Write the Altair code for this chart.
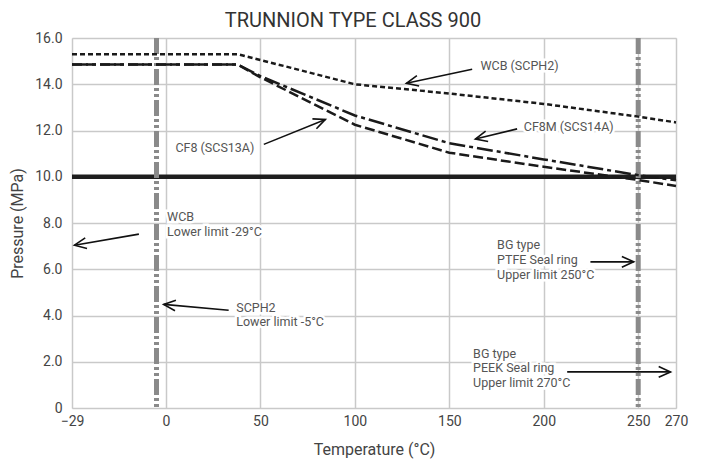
import math
import altair as alt
import pandas as pd
import numpy as np

# ---------------- data ----------------
TEMPS = [-29, 38, 50, 100, 150, 200, 250, 270]
WCB = [15.3, 15.3, 15.05, 14.0, 13.6, 13.15, 12.6, 12.35]
CF8M = [14.85, 14.85, 14.35, 12.65, 11.45, 10.75, 10.07, 9.85]
CF8 = [14.85, 14.85, 14.3, 12.25, 11.04, 10.43, 9.86, 9.6]
SEAL_LIMIT = 10.0
LIMIT_TEMPS = [-5, 250]

X_TICKS = [-29, 0, 50, 100, 150, 200, 250, 270]
Y_TICKS = [0, 2, 4, 6, 8, 10, 12, 14, 16]

TITLE = "TRUNNION TYPE CLASS 900"
X_TITLE = "Temperature (°C)"
Y_TITLE = "Pressure (MPa)"

# annotation text lines: (x, y, text)
LABEL_X = [166.5, 189.4, 5.0, 0.6, 0.6, 37.2, 37.2, 175.3, 175.3, 175.3, 162.6, 162.6, 162.6]
LABEL_Y = [14.79, 12.13, 11.23, 8.27, 7.62, 4.34, 3.72, 7.04, 6.39, 5.75, 2.35, 1.71, 1.06]
LABEL_T = ["WCB (SCPH2)", "CF8M (SCS14A)", "CF8 (SCS13A)",
           "WCB", "Lower limit -29°C",
           "SCPH2", "Lower limit -5°C",
           "BG type", "PTFE Seal ring", "Upper limit 250°C",
           "BG type", "PEEK Seal ring", "Upper limit 270°C"]

# arrows: tail -> head
ARROW_X1 = [162.1, 185.9, 51.8, -10.0, 33.2, 224.7, 212.4]
ARROW_Y1 = [14.65, 12.07, 11.40, 7.52, 4.23, 6.32, 1.56]
ARROW_X2 = [127.3, 163.8, 84.4, -28.3, -1.2, 247.6, 267.1]
ARROW_Y2 = [14.04, 11.63, 12.48, 7.04, 4.48, 6.32, 1.56]

# ---------------- layout ----------------
W, H = 604, 370
X_DOMAIN = [-29, -5, 270]
X_RANGE = [0, 84.5, W]
Y_DOMAIN = [0, 16]
FONT = "Roboto"

xscale = alt.Scale(domain=X_DOMAIN, range=X_RANGE, nice=False, zero=False)
yscale = alt.Scale(domain=Y_DOMAIN, nice=False, zero=False)


def to_px(t, p):
    return float(np.interp(t, X_DOMAIN, X_RANGE)), H - p / 16.0 * H


series = pd.DataFrame({
    "t": TEMPS * 3,
    "p": WCB + CF8M + CF8,
    "s": ["WCB"] * len(TEMPS) + ["CF8M"] * len(TEMPS) + ["CF8"] * len(TEMPS),
})

labels = pd.DataFrame({"t": LABEL_X, "p": LABEL_Y, "txt": LABEL_T})

angles = []
for a, b, c, d in zip(ARROW_X1, ARROW_Y1, ARROW_X2, ARROW_Y2):
    x1, y1 = to_px(a, b)
    x2, y2 = to_px(c, d)
    angles.append(math.degrees(math.atan2(y2 - y1, x2 - x1)) % 360)
arrows = pd.DataFrame({"x1": ARROW_X1, "y1": ARROW_Y1, "x2": ARROW_X2,
                       "y2": ARROW_Y2, "ang": angles})

limits = pd.DataFrame({"t": LIMIT_TEMPS})
seal = pd.DataFrame({"t": [X_DOMAIN[0], X_DOMAIN[-1]], "p": [SEAL_LIMIT, SEAL_LIMIT]})

x_axis = alt.Axis(values=X_TICKS, grid=True, gridColor="#c9c9c9", gridWidth=1.5,
                  ticks=False, domain=False, labelFont=FONT, labelFontSize=14,
                  labelColor="#444", labelPadding=6, titleFont=FONT, titleFontSize=16,
                  titleFontWeight="normal", titleColor="#444", titlePadding=13,
                  labelFlush=False)
y_axis = alt.Axis(values=Y_TICKS, grid=True, gridColor="#c9c9c9", gridWidth=1.5,
                  ticks=False, domain=False, labelFont=FONT, labelFontSize=14,
                  labelColor="#444", labelPadding=10, titleFont=FONT, titleFontSize=16,
                  titleFontWeight="normal", titleColor="#444", titlePadding=9,
                  labelExpr="datum.value == 0 ? '0' : format(datum.value, '.1f')")

base_x = alt.X("t:Q", scale=xscale, axis=x_axis, title=X_TITLE)
base_y = alt.Y("p:Q", scale=yscale, axis=y_axis, title=Y_TITLE)

halo = alt.Chart(labels).mark_text(
    align="left", baseline="middle", font=FONT, fontSize=12.5,
    color="white", stroke="white", strokeWidth=5
).encode(x=alt.X("t:Q", scale=xscale), y=alt.Y("p:Q", scale=yscale), text="txt:N")

limit_rules = alt.Chart(limits).mark_rule(
    color="#8a8a8a", strokeWidth=5, strokeDash=[16, 3, 3, 3, 3, 3]
).encode(x=alt.X("t:Q", scale=xscale))

seal_line = alt.Chart(seal).mark_line(color="#1e1e1e", strokeWidth=4.5).encode(
    x=base_x, y=base_y)


def series_layer(name, dash):
    return alt.Chart(series).transform_filter(alt.datum.s == name).mark_line(
        color="#1a1a1a", strokeWidth=2.5, strokeDash=dash
    ).encode(x=alt.X("t:Q", scale=xscale), y=alt.Y("p:Q", scale=yscale))


wcb_line = series_layer("WCB", [5, 3])
cf8m_line = series_layer("CF8M", [16, 4, 4, 4])
cf8_line = series_layer("CF8", [10, 4])

texts = alt.Chart(labels).mark_text(
    align="left", baseline="middle", font=FONT, fontSize=12.5, color="#555"
).encode(x=alt.X("t:Q", scale=xscale), y=alt.Y("p:Q", scale=yscale), text="txt:N")

arrow_lines = alt.Chart(arrows).mark_rule(color="#111", strokeWidth=1.6).encode(
    x=alt.X("x1:Q", scale=xscale), y=alt.Y("y1:Q", scale=yscale),
    x2="x2:Q", y2="y2:Q")

arrow_heads = alt.Chart(arrows).mark_point(
    shape="M-1,-0.45L0,0L-1,0.45", filled=False, color="#111", strokeWidth=1.6,
    size=560, opacity=1
).encode(x=alt.X("x2:Q", scale=xscale), y=alt.Y("y2:Q", scale=yscale),
         angle=alt.Angle("ang:Q", scale=None))

chart = alt.layer(
    seal_line, halo, limit_rules, wcb_line, cf8m_line, cf8_line,
    texts, arrow_lines, arrow_heads
).properties(
    width=W, height=H,
    title=alt.TitleParams(TITLE, font=FONT, fontSize=20, fontWeight="normal",
                          color="#333", anchor="middle", dx=-21, offset=0),
    autosize=alt.AutoSizeParams(type="none"),
    padding={"left": 64, "top": 30, "right": 20, "bottom": 52},
).configure_view(stroke="#c4c4c4", strokeWidth=5).configure(background="white")

chart.save("out.html", embed_options={"renderer": "svg", "actions": False})
